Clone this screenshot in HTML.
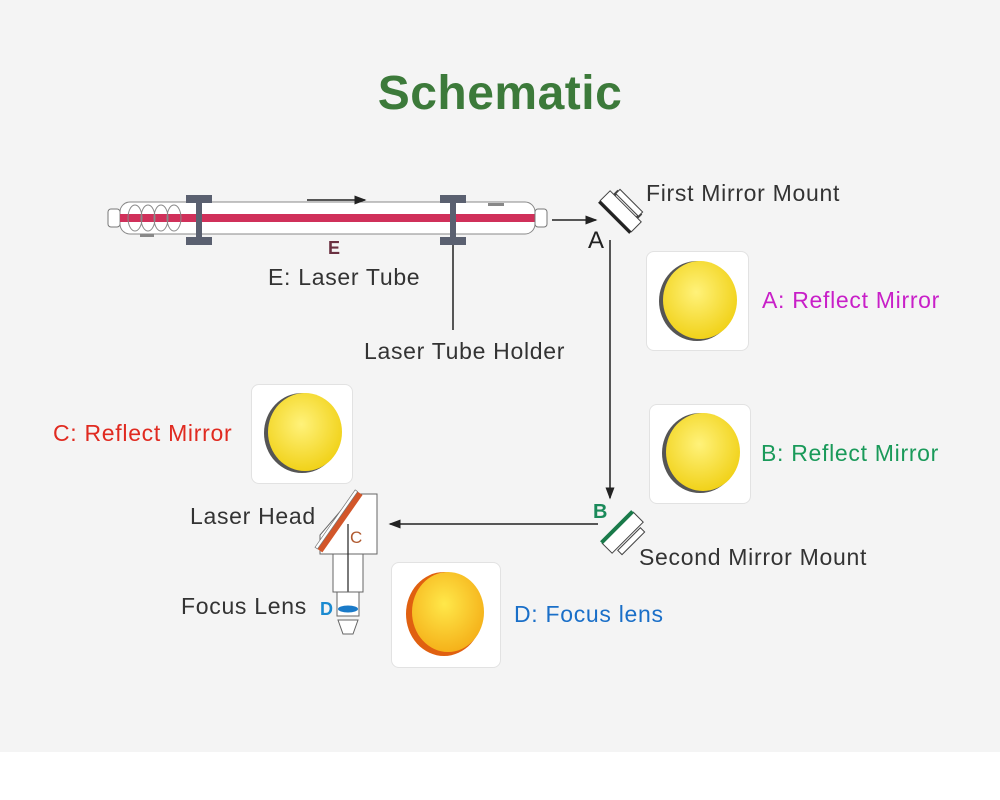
<!DOCTYPE html>
<html><head><style>
body{margin:0;width:1000px;height:800px;background:#fff;font-family:"Liberation Sans",sans-serif;position:relative;overflow:hidden}
.bg{position:absolute;left:0;top:0;width:1000px;height:752px;background:#f4f4f4}
.t{position:absolute;font-size:23px;letter-spacing:0.7px;color:#333;white-space:nowrap}
.box{position:absolute;background:#fff;border:1px solid #e2e2e2;border-radius:8px}
</style></head><body>
<div class="bg"></div>
<div style="position:absolute;left:0;width:1000px;top:66px;text-align:center;font-size:48px;letter-spacing:0.5px;font-weight:bold;color:#3c7a3a">Schematic</div>

<div class="box" style="left:646px;top:251px;width:101px;height:98px"></div>
<div class="box" style="left:649px;top:404px;width:100px;height:98px"></div>
<div class="box" style="left:251px;top:384px;width:100px;height:98px"></div>
<div class="box" style="left:391px;top:562px;width:108px;height:104px"></div>

<svg width="1000" height="800" style="position:absolute;left:0;top:0">
<defs>
<radialGradient id="y" cx="45%" cy="40%" r="60%"><stop offset="0" stop-color="#fff27a"/><stop offset="1" stop-color="#f1d21a"/></radialGradient>
<radialGradient id="o" cx="45%" cy="40%" r="60%"><stop offset="0" stop-color="#ffe84a"/><stop offset="1" stop-color="#f5b21a"/></radialGradient>
<marker id="ar" markerWidth="8" markerHeight="8" refX="7" refY="4" orient="auto"><path d="M0,1 L8,4 L0,7z" fill="#222"/></marker>
</defs>
<g><ellipse cx="697" cy="301" rx="38" ry="40" fill="#555"/><ellipse cx="700" cy="300" rx="37" ry="39" fill="url(#y)"/></g>
<g><ellipse cx="700" cy="453" rx="38" ry="40" fill="#555"/><ellipse cx="703" cy="452" rx="37" ry="39" fill="url(#y)"/></g>
<g><ellipse cx="302" cy="433" rx="38" ry="40" fill="#555"/><ellipse cx="305" cy="432" rx="37" ry="39" fill="url(#y)"/></g>
<g><ellipse cx="444" cy="614" rx="38" ry="42" fill="#e06010"/><ellipse cx="448" cy="612" rx="36" ry="40" fill="url(#o)"/></g>
<rect x="108" y="209" width="12" height="18" rx="3" fill="#fff" stroke="#777"/>
<rect x="120" y="202" width="415" height="32" rx="10" fill="#fff" stroke="#888"/>
<rect x="120" y="214" width="415" height="8" fill="#d0305a"/>
<g fill="none" stroke="#888"><ellipse cx="135" cy="218" rx="7" ry="13"/><ellipse cx="148" cy="218" rx="7" ry="13"/><ellipse cx="161" cy="218" rx="7" ry="13"/><ellipse cx="174" cy="218" rx="7" ry="13"/></g>
<rect x="140" y="234" width="14" height="3" fill="#888"/>
<rect x="488" y="203" width="16" height="3" fill="#888"/>
<rect x="535" y="209" width="12" height="18" rx="3" fill="#fff" stroke="#777"/>
<g fill="#5a6070"><rect x="186" y="195" width="26" height="8"/><rect x="196" y="195" width="6" height="50"/><rect x="186" y="237" width="26" height="8"/>
<rect x="440" y="195" width="26" height="8"/><rect x="450" y="195" width="6" height="50"/><rect x="440" y="237" width="26" height="8"/></g>
<line x1="307" y1="200" x2="365" y2="200" stroke="#222" stroke-width="1.5" marker-end="url(#ar)"/>
<text x="328" y="254" font-size="18" fill="#6a3040" font-weight="bold" font-family="Liberation Sans">E</text>
<line x1="453" y1="245" x2="453" y2="330" stroke="#222" stroke-width="1.5"/>
<line x1="552" y1="220" x2="596" y2="220" stroke="#222" stroke-width="1.5" marker-end="url(#ar)"/>
<g transform="translate(620,212) rotate(45)"><rect x="-22" y="-8" width="44" height="14" fill="#fff" stroke="#444"/><rect x="-22" y="6" width="44" height="3" fill="#222"/><line x1="-16" y1="-8" x2="-16" y2="-14" stroke="#444" stroke-width="3"/><line x1="16" y1="-8" x2="16" y2="-14" stroke="#444" stroke-width="3"/><rect x="-16" y="-16" width="32" height="6" fill="#fff" stroke="#444"/></g>
<text x="588" y="248" font-size="24" fill="#222" font-family="Liberation Sans">A</text>
<line x1="610" y1="240" x2="610" y2="498" stroke="#222" stroke-width="1.5" marker-end="url(#ar)"/>
<text x="593" y="518" font-size="20" fill="#1a8a5a" font-weight="bold" font-family="Liberation Sans">B</text>
<g transform="translate(622,532) rotate(-45)"><rect x="-22" y="-6" width="44" height="14" fill="#fff" stroke="#444"/><rect x="-22" y="-9" width="44" height="4" fill="#1a7a4a"/><rect x="-16" y="10" width="32" height="6" fill="#fff" stroke="#444"/></g>
<line x1="598" y1="524" x2="390" y2="524" stroke="#222" stroke-width="1.5" marker-end="url(#ar)"/>
<path d="M355,494 L377,494 L377,554 L320,554 L320,535 Z" fill="#fff" stroke="#666"/>
<g transform="translate(340,522) rotate(-55)"><rect x="-35" y="-3" width="70" height="6" fill="#d2562a"/><rect x="-35" y="-6" width="70" height="3" fill="#fff" stroke="#777" stroke-width="0.7"/></g>
<text x="350" y="543" font-size="17" fill="#b05a30" font-family="Liberation Sans">C</text>
<rect x="333" y="554" width="30" height="38" fill="#fff" stroke="#666"/>
<line x1="348" y1="524" x2="348" y2="608" stroke="#222" stroke-width="1.2"/>
<rect x="337" y="592" width="22" height="24" fill="#fff" stroke="#666"/>
<ellipse cx="348" cy="609" rx="10" ry="3.5" fill="#1a7ac8"/>
<path d="M338,620 L358,620 L353,634 L343,634 Z" fill="#fff" stroke="#666"/>
<text x="320" y="615" font-size="18" fill="#1a8ad0" font-weight="bold" font-family="Liberation Sans">D</text>
</svg>

<div class="t" style="left:646px;top:180px">First Mirror Mount</div>
<div class="t" style="left:268px;top:264px">E: Laser Tube</div>
<div class="t" style="left:364px;top:338px">Laser Tube Holder</div>
<div class="t" style="left:762px;top:287px;color:#c81fc8">A: Reflect Mirror</div>
<div class="t" style="left:761px;top:440px;color:#1a9a5a">B: Reflect Mirror</div>
<div class="t" style="left:53px;top:420px;color:#e02a20">C: Reflect Mirror</div>
<div class="t" style="left:190px;top:503px">Laser Head</div>
<div class="t" style="left:639px;top:544px">Second Mirror Mount</div>
<div class="t" style="left:181px;top:593px">Focus Lens</div>
<div class="t" style="left:514px;top:601px;color:#1a6fc8">D: Focus lens</div>
</body></html>
